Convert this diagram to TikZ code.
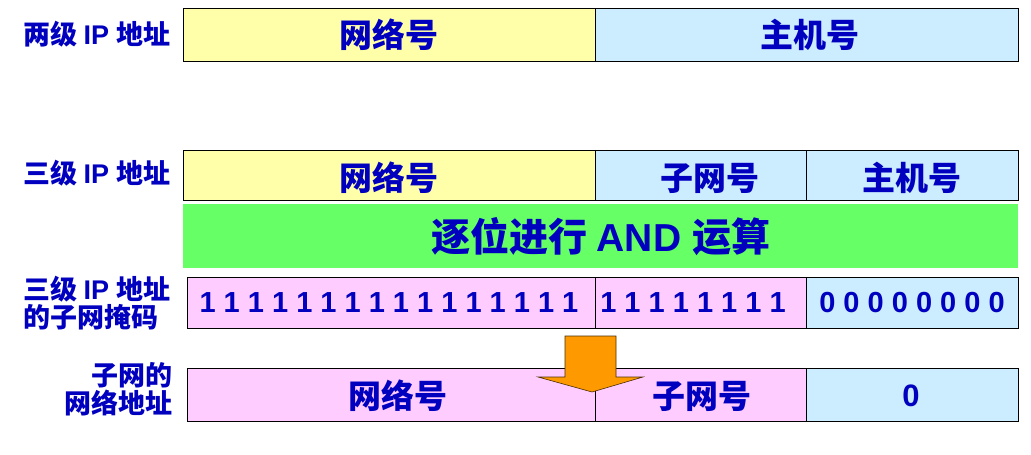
\documentclass[tikz,border=0pt]{standalone}
\usepackage{fontspec}
\setmainfont{Liberation Sans}
\newfontfamily\cjk{Noto Sans CJK SC}
\definecolor{tblue}{RGB}{0,0,190}
\definecolor{lyel}{RGB}{255,255,170}
\definecolor{lblu}{RGB}{204,236,255}
\definecolor{lpnk}{RGB}{255,204,255}
\definecolor{lgrn}{RGB}{102,255,102}
\definecolor{orng}{RGB}{255,153,0}
\begin{document}
\begin{tikzpicture}[x=1pt,y=-1pt,
  cell/.style={draw=black,line width=0.8pt},
  big/.style={text=tblue,font=\bfseries\fontsize{33}{36}\selectfont},
  num/.style={text=tblue,font=\bfseries\fontsize{29}{32}\selectfont},
  lab/.style={text=tblue,font=\bfseries\fontsize{27}{31}\selectfont,align=center}]
\useasboundingbox (0,0) rectangle (1031,455);
% row 1
\filldraw[cell,fill=lyel] (183,8) rectangle (595,61);
\filldraw[cell,fill=lblu] (595,8) rectangle (1018,61);
\node[big] (a1) at (389,35) {\cjk 网络号};
\node[big] (a2) at (810,35) {\cjk 主机号};
\node[lab] (l1) at (97,34) {\cjk 两级 \rmfamily IP \cjk 地址};
% row 2
\filldraw[cell,fill=lyel] (183,150) rectangle (595,200);
\filldraw[cell,fill=lblu] (595,150) rectangle (806,200);
\filldraw[cell,fill=lblu] (806,150) rectangle (1018,200);
\node[big] (b1) at (389,178) {\cjk 网络号};
\node[big] (b2) at (710,178) {\cjk 子网号};
\node[big] (b3) at (912,178) {\cjk 主机号};
\node[lab] (l2) at (97,173) {\cjk 三级 \rmfamily IP \cjk 地址};
% green
\fill[lgrn] (183,204) rectangle (1018,268);
\node[text=tblue,font=\bfseries\fontsize{39}{42}\selectfont] (g) at (601,237) {\cjk 逐位进行 \rmfamily AND \cjk 运算};
% row 3
\filldraw[cell,fill=lpnk] (187,277) rectangle (595,328);
\filldraw[cell,fill=lpnk] (595,277) rectangle (806,328);
\filldraw[cell,fill=lblu] (806,277) rectangle (1018,328);
\node[num] (c1) at (389,303) {1 1 1 1 1 1 1 1 1 1 1 1 1 1 1 1};
\node[num] (c2) at (693,303) {1 1 1 1 1 1 1 1};
\node[num] (c3) at (912,303) {0 0 0 0 0 0 0 0};
\node[lab,align=left] (l3) at (97,303) {\cjk 三级 \rmfamily IP \cjk 地址\\[-3pt]\cjk 的子网掩码};
% row 4
\filldraw[cell,fill=lpnk] (187,368) rectangle (595,421);
\filldraw[cell,fill=lpnk] (595,368) rectangle (806,421);
\filldraw[cell,fill=lblu] (806,368) rectangle (1018,421);
\node[big] (d1) at (398,396) {\cjk 网络号};
\node[big] (d2) at (702,396) {\cjk 子网号};
\node[num,font=\bfseries\fontsize{31}{34}\selectfont] (d3) at (911,396) {0};
\node[lab,align=right] (l4) at (118,389) {\cjk 子网的\\[-3pt]\cjk 网络地址};
% arrow
\filldraw[fill=orng,draw=black!70!orng,line width=0.6pt]
  (565,336) -- (616,336) -- (616,377) -- (643,377) -- (592,392) -- (538,377) -- (565,377) -- cycle;
\end{tikzpicture}
\end{document}
